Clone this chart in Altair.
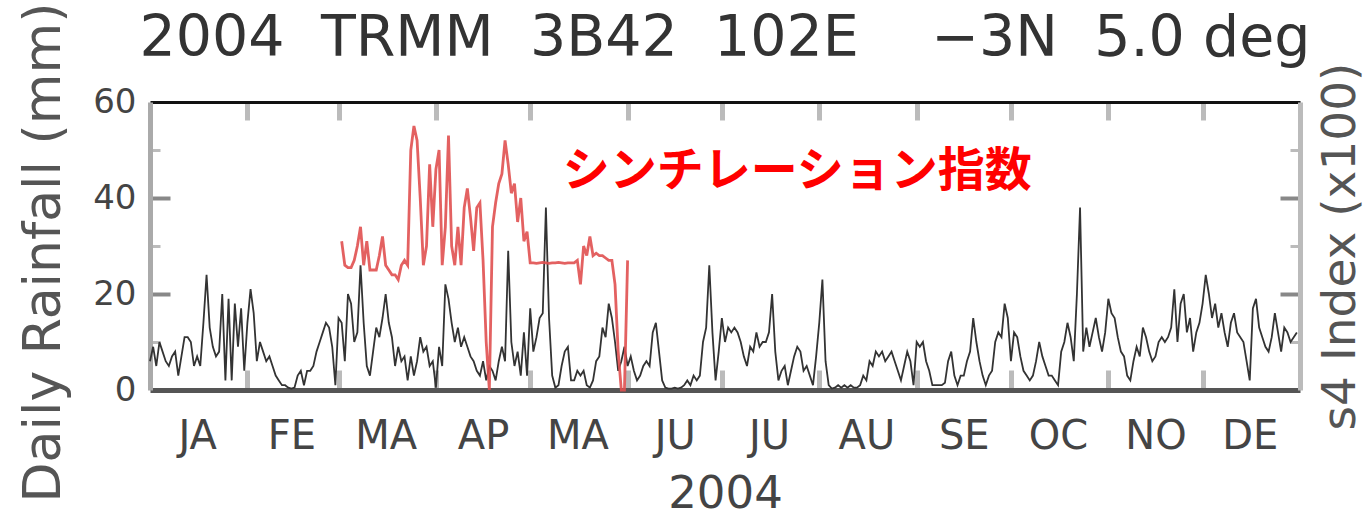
import json
import itertools
import altair as alt
import pandas as pd

# ---------------- data ----------------
rain = [
    6, 9, 5, 10, 8, 6, 5, 7, 8, 3,
    7, 11, 11, 10, 5, 7, 5, 14, 24, 13,
    9, 7, 8, 20, 2, 19, 2, 18, 9, 17,
    4, 14, 21, 16, 6, 10, 8, 6, 7, 5,
    3, 2, 1, 1, 0.5, 0.3, 0.5, 3, 4, 1,
    4, 4, 5, 8, 10, 12, 14, 13, 9, 1,
    15, 14, 6, 20, 18, 10, 12, 26, 14, 5,
    3, 8, 13, 11, 15, 20, 14, 11, 5, 9,
    6, 7, 2, 7, 3, 6, 11, 8, 9, 5,
    6, 0.5, 9, 5, 22, 19, 14, 10, 13, 9,
    11, 9, 7, 6, 4, 3, 6, 2, 5, 4,
    2, 6, 9, 6, 29, 10, 5, 8, 3, 12,
    3, 17, 8, 11, 15, 16, 38, 15, 3, 0.5,
    1, 5, 8, 9, 2, 2, 4, 3, 4, 1,
    0.5, 2, 6, 7, 13, 11, 18, 15, 10, 4,
    6, 9, 5, 7, 4, 2, 3, 5, 6, 5,
    12, 14, 8, 2, 0.5, 0.3, 0.3, 0.5, 0.3, 0.5,
    1, 2, 1, 3, 2, 3, 10, 13, 26, 12,
    2, 8, 15, 10, 13, 12, 13, 12, 10, 7,
    5, 9, 8, 12, 9, 10, 10, 12, 20, 8,
    2, 4, 5, 1, 4, 7, 9, 8, 4, 5,
    3, 1, 7, 14, 23, 6, 1, 0.3, 0.5, 1,
    0.5, 1, 0.5, 1, 0.5, 0.5, 1, 3, 2, 6,
    5, 8, 7, 8, 6, 7, 8, 6, 4, 2,
    5, 8, 6, 1, 10, 9, 10, 6, 4, 1,
    1, 1, 1, 1.5, 6, 8, 3, 1, 3, 3,
    6, 8, 15, 10, 6, 3, 1, 3, 4, 10,
    12, 11, 18, 15, 6, 12, 11, 7, 4, 3,
    2, 3, 6, 10, 7, 5, 3, 3, 2, 1,
    8, 10, 14, 11, 6, 20, 38, 8, 13, 9,
    12, 15, 11, 8, 12, 19, 16, 15, 11, 8,
    7, 3, 2, 6, 9, 7, 13, 11, 8, 6,
    7, 10, 11, 10, 11, 13, 21, 10, 18, 20,
    12, 15, 8, 12, 14, 18, 24, 20, 15, 18,
    13, 16, 12, 9, 14, 16, 12, 11, 10, 6,
    2, 17, 19, 13, 11, 9, 8, 11, 16, 12,
    8, 13, 12, 10, 11, 12,
]

s4_first_day = 61
s4 = [
    31, 26, 25.5, 25.5, 27, 30, 34, 26, 31, 25,
    25, 25, 28, 32, 26, 25, 24, 24, 23, 26,
    27, 26, 50, 55, 52, 40, 26, 30, 47, 34,
    46, 50, 26, 34, 53, 30, 26, 34, 26, 38,
    42, 36, 29, 38, 39, 27, 10, 0, 34, 39,
    43, 45, 52, 47, 41, 43, 35, 40, 31, 33,
    26.5, 26.5, 26.4, 26.5, 26.6, 26.5, 26.4, 26.5, 26.5, 26.6,
    26.5, 26.4, 26.5, 26.5, 26.5, 27, 22, 30, 28, 32,
    28, 28.5, 28, 28, 27.5, 27, 27, 22, 8, 0,
    0, 27,
]

month_names = ["JA", "FE", "MA", "AP", "MA", "JU", "JU", "AU", "SE", "OC", "NO", "DE"]
month_lengths = [31, 29, 31, 30, 31, 30, 31, 31, 30, 31, 30, 31]
y_labels = [0, 20, 40, 60]
y_inner_major = [20, 40]
y_minor = [10, 30, 50]

NB = "\u00a0"
title_text = ("2004" + NB * 2 + "TRMM" + NB * 2 + "3B42" + NB * 2 + "102E" + NB * 4
              + "\u22123N" + NB * 2 + "5.0" + NB + "deg")
note_text = ["シンチレーション指数"]
note_day = [206]
note_value = [45.5]

# ---------------- derived helpers ----------------
month_starts = list(itertools.accumulate([0] + month_lengths))
month_mids = [s + n // 2 for s, n in zip(month_starts, month_lengths)]
inner_starts = month_starts[1:-1]

rain_df = pd.DataFrame({"day": list(range(len(rain))), "rain": rain})
s4_df = pd.DataFrame({"day": [s4_first_day + i for i in range(len(s4))], "s4": s4})
note_df = pd.DataFrame({"day": note_day, "v": note_value, "t": note_text})

FONT = "DejaVu Sans"
xs = alt.Scale(domain=[0, month_starts[-1]], nice=False, zero=False)
ys = alt.Scale(domain=[0, 60], nice=False)

label_expr = f"{json.dumps(month_names)}[indexof({json.dumps(month_mids)}, datum.value)]"

ax_bottom = alt.Axis(orient="bottom", values=month_mids, labelExpr=label_expr, ticks=False,
                     domainColor="#555", domainWidth=5, labelFont=FONT, labelFontSize=40,
                     labelColor="#444", labelPadding=26, labelFlush=False, labelOverlap=False,
                     title="2004", titleFont=FONT, titleFontSize=45, titleFontWeight="normal",
                     titleColor="#444", titlePadding=15, grid=False)
ax_left = alt.Axis(orient="left", values=y_labels, ticks=False, domainColor="#aaa", domainWidth=5,
                   labelFont=FONT, labelFontSize=34, labelColor="#444", labelPadding=14,
                   title="Daily Rainfall (mm)", titleFont=FONT, titleFontSize=52,
                   titleFontWeight="normal", titleColor="#555", titlePadding=22,
                   titleY=150, grid=False)
ax_top_frame = alt.Axis(orient="top", labels=False, ticks=False, domainColor="#111",
                        domainWidth=3, title=None, grid=False)
ax_right_frame = alt.Axis(orient="right", labels=False, ticks=False, domainColor="#bbb",
                          domainWidth=5, title="s4 Index (x100)", titleAngle=270,
                          titleBaseline="top", titleFont=FONT, titleFontSize=47,
                          titleFontWeight="normal", titleColor="#555", titlePadding=17,
                          grid=False)


def tick_axis(orient, values, size, color, width):
    return alt.Axis(orient=orient, offset=-size, values=values, tickSize=size,
                    tickWidth=width, tickColor=color, labels=False, domain=False,
                    title=None, grid=False)


ax_bottom_ticks = tick_axis("bottom", inner_starts, 20, "#bbb", 5)
ax_top_ticks = tick_axis("top", inner_starts, 18, "#bbb", 5)
ax_left_ticks = tick_axis("left", y_inner_major, 20, "#888", 4)
ax_left_minor = tick_axis("left", y_minor, 10, "#bbb", 3)
ax_right_ticks = tick_axis("right", y_inner_major, 20, "#888", 4)
ax_right_minor = tick_axis("right", y_minor, 10, "#bbb", 3)


def ghost(xaxis, yaxis):
    return alt.Chart(rain_df).mark_line(opacity=0).encode(
        x=alt.X("day:Q", scale=xs, axis=xaxis),
        y=alt.Y("rain:Q", scale=ys, axis=yaxis),
    )


g1 = ghost(ax_bottom_ticks, ax_left_ticks)
g2 = ghost(ax_top_ticks, ax_right_ticks)
g3 = ghost(None, ax_left_minor)
g4 = ghost(None, ax_right_minor)

rain_line = alt.Chart(rain_df).mark_line(color="#333", strokeWidth=1.8).encode(
    x=alt.X("day:Q", scale=xs, axis=ax_bottom),
    y=alt.Y("rain:Q", scale=ys, axis=ax_left),
)
s4_line = alt.Chart(s4_df).mark_line(color="#e05050", strokeWidth=2.8, opacity=0.9).encode(
    x=alt.X("day:Q", scale=xs, axis=ax_top_frame),
    y=alt.Y("s4:Q", scale=ys, axis=ax_right_frame),
)
note = alt.Chart(note_df).mark_text(
    font="Noto Sans CJK JP", fontWeight="bold", fontSize=47, color="#ff0000",
    align="center", baseline="middle"
).encode(
    x=alt.X("day:Q", scale=xs, axis=None),
    y=alt.Y("v:Q", scale=ys, axis=None),
    text="t:N",
)

chart = alt.layer(g1, g2, g3, g4, rain_line, s4_line, note).resolve_axis(
    x="independent", y="independent"
).properties(
    width=1150,
    height=288,
    autosize=alt.AutoSizeParams(type="none"),
    padding={"left": 150, "top": 102, "right": 69, "bottom": 127},
    title=alt.TitleParams(text=title_text, font=FONT, fontSize=57, fontWeight="normal",
                          color="#333", anchor="middle", frame="group", offset=-66),
).configure_view(stroke=None).configure(background="white")

chart.save("out.html", embed_options={"renderer": "svg", "actions": False})
